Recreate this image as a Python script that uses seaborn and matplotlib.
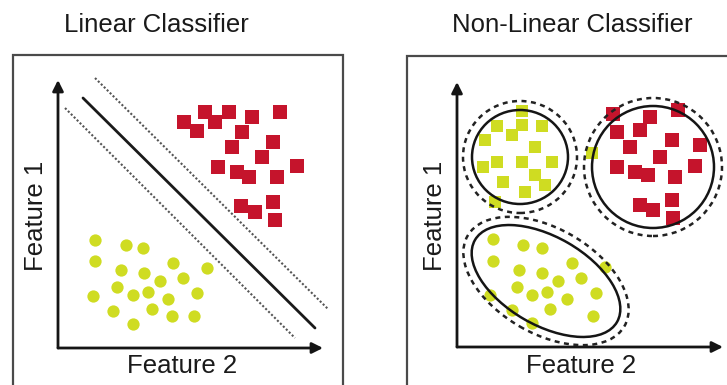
import matplotlib
matplotlib.use("Agg")
import matplotlib.pyplot as plt
from matplotlib.patches import Ellipse, Rectangle
import seaborn as sns
import pandas as pd

sns.set_style("white")
plt.rcParams["font.family"] = ["Liberation Sans", "DejaVu Sans"]

RED = "#c5142c"
YELLOW = "#cfdc22"

# ---------------- Linear classifier panel ----------------
lin_red_x = [12.6, 13.9, 14.7, 15.7, 17.1, 18.4, 19.4, 22.2, 17.4, 21.5,
             20.4, 16.0, 17.9, 19.1, 21.9, 23.9, 18.3, 19.7, 21.5, 21.7]
lin_red_y = [22.6, 21.7, 23.6, 22.6, 23.6, 21.6, 23.1, 23.6, 20.1, 20.6,
             19.1, 18.1, 17.6, 17.1, 17.1, 18.2, 14.2, 13.6, 14.6, 12.8]
lin_yel_x = [3.7, 6.8, 8.5, 3.7, 6.3, 8.6, 11.5, 14.9, 10.2, 12.5,
             5.9, 7.5, 9.0, 11.0, 13.9, 3.5, 5.5, 9.4, 11.4, 13.6, 7.5]
lin_yel_y = [10.8, 10.3, 10.0, 8.7, 7.8, 7.5, 8.5, 8.0, 6.7, 7.0,
             6.1, 5.3, 5.6, 4.9, 5.5, 5.2, 3.7, 3.9, 3.2, 3.2, 2.4]

boundary_x = [2.5, 25.7]
boundary_y = [25.0, 2.0]
margin_hi_x = [3.7, 27.0]
margin_hi_y = [27.0, 3.9]
margin_lo_x = [0.7, 23.7]
margin_lo_y = [24.0, 1.0]

# ---------------- Non-linear classifier panel ----------------
nl_ysq_x = [6.5, 4.0, 6.5, 8.5, 5.5, 2.8, 7.8, 2.6, 4.0, 6.5,
            9.5, 7.8, 4.6, 8.8, 6.8, 3.8, 13.5]
nl_ysq_y = [23.6, 22.1, 22.2, 22.1, 21.2, 20.7, 20.0, 18.0, 18.5, 18.5,
            18.5, 17.2, 16.5, 16.2, 15.5, 14.5, 19.4]
nl_red_x = [15.6, 19.3, 22.1, 16.0, 18.3, 17.3, 21.5, 24.3, 20.3, 16.0,
            17.8, 19.1, 21.8, 23.8, 21.5, 18.3, 19.6, 21.6]
nl_red_y = [23.3, 23.0, 23.7, 21.5, 21.7, 20.0, 20.7, 20.2, 19.0, 18.0,
            17.5, 17.2, 17.0, 18.1, 14.7, 14.2, 13.7, 12.9]
nl_yci_x = [3.6, 6.6, 8.5, 3.6, 6.2, 8.5, 11.5, 14.8, 10.1, 12.4,
            6.0, 7.5, 9.0, 11.0, 13.9, 3.3, 5.5, 9.3, 13.6, 7.5]
nl_yci_y = [10.8, 10.2, 9.9, 8.6, 7.7, 7.4, 8.4, 8.0, 6.6, 6.9,
            6.0, 5.2, 5.5, 4.8, 5.4, 5.2, 3.7, 3.8, 3.1, 2.4]

# region shapes: center x, center y, width, height, angle
region_cx = [6.3, 19.6, 8.9]
region_cy = [19.0, 18.0, 6.6]
region_w = [9.6, 12.2, 16.4]
region_h = [9.4, 12.2, 8.8]
region_angle = [0, 0, -30]
region_pad = [1.8, 1.6, 1.7]

W, H = 727, 385
fig = plt.figure(figsize=(W / 100, H / 100), dpi=100)


def px_axes(x0, y0, x1, y1):
    # x0,y0 = origin pixel; x1 = right tip pixel; y1 = top tip pixel
    return fig.add_axes([x0 / W, 1 - y0 / H, (x1 - x0) / W, (y0 - y1) / H])


def style_axes(ax, xmax, ymax):
    ax.set_xlim(0, xmax)
    ax.set_ylim(0, ymax)
    for s in ax.spines.values():
        s.set_visible(False)
    ax.set_xticks([])
    ax.set_yticks([])
    ax.set_xlabel("")
    ax.set_ylabel("")
    ax.patch.set_alpha(0)
    arrow = dict(arrowstyle="-|>", lw=2.0, color="#151515", mutation_scale=16,
                 shrinkA=0, shrinkB=0)
    ax.annotate("", xy=(xmax, 0), xytext=(0, 0), arrowprops=arrow,
                annotation_clip=False)
    ax.annotate("", xy=(0, ymax), xytext=(0, 0), arrowprops=arrow,
                annotation_clip=False)


# outer boxes
fig.add_artist(Rectangle((13 / W, -0.05), 330 / W, 1 - 55 / H + 0.05,
                         transform=fig.transFigure, fill=False,
                         ec="#4a4a4a", lw=1.6))
fig.add_artist(Rectangle((407 / W, -0.05), 0.5, 1 - 56 / H + 0.05,
                         transform=fig.transFigure, fill=False,
                         ec="#4a4a4a", lw=1.6))

# ---- left panel ----
axL = px_axes(58, 348, 323, 80)
sns.scatterplot(x=lin_red_x, y=lin_red_y, ax=axL, marker="s", s=92,
                color=RED, linewidth=0, zorder=3)
sns.scatterplot(x=lin_yel_x, y=lin_yel_y, ax=axL, marker="o", s=78,
                color=YELLOW, linewidth=0, zorder=3)
sns.lineplot(x=boundary_x, y=boundary_y, ax=axL, color="#1a1a1a", lw=2.0,
             clip_on=False)
for mx, my in [(margin_hi_x, margin_hi_y), (margin_lo_x, margin_lo_y)]:
    sns.lineplot(x=mx, y=my, ax=axL, color="#555555", lw=1.5,
                 linestyle=(0, (1, 1)), clip_on=False)
style_axes(axL, 26.5, 26.8)

# ---- right panel ----
axR = px_axes(457, 347, 723, 82)
sns.scatterplot(x=nl_ysq_x, y=nl_ysq_y, ax=axR, marker="s", s=80,
                color=YELLOW, linewidth=0, zorder=3)
sns.scatterplot(x=nl_red_x, y=nl_red_y, ax=axR, marker="s", s=88,
                color=RED, linewidth=0, zorder=3)
sns.scatterplot(x=nl_yci_x, y=nl_yci_y, ax=axR, marker="o", s=78,
                color=YELLOW, linewidth=0, zorder=3)
for cx, cy, w, h, a, p in zip(region_cx, region_cy, region_w, region_h,
                              region_angle, region_pad):
    axR.add_patch(Ellipse((cx, cy), w, h, angle=a, fill=False,
                          ec="#151515", lw=1.8, zorder=4, clip_on=False))
    axR.add_patch(Ellipse((cx, cy), w + p, h + p, angle=a, fill=False,
                          ec="#222222", lw=1.8, linestyle=(0, (2, 1.8)),
                          zorder=4, clip_on=False))
style_axes(axR, 26.6, 26.5)

# ---- texts ----
fs = 18.5
fig.text(156 / W, 1 - 32 / H, "Linear Classifier", ha="center",
         va="baseline", fontsize=fs, color="#1a1a1a")
fig.text(572 / W, 1 - 32 / H, "Non-Linear Classifier", ha="center",
         va="baseline", fontsize=fs, color="#1a1a1a")
fig.text(182 / W, 1 - 373 / H, "Feature 2", ha="center", va="baseline",
         fontsize=fs, color="#1a1a1a")
fig.text(581 / W, 1 - 373 / H, "Feature 2", ha="center", va="baseline",
         fontsize=fs, color="#1a1a1a")
fig.text(43 / W, 1 - 216 / H, "Feature 1", ha="center", va="baseline",
         rotation=90, rotation_mode="anchor", fontsize=fs, color="#1a1a1a")
fig.text(442 / W, 1 - 216 / H, "Feature 1", ha="center", va="baseline",
         rotation=90, rotation_mode="anchor", fontsize=fs, color="#1a1a1a")

fig.savefig("out.png", dpi=100, facecolor="white")
